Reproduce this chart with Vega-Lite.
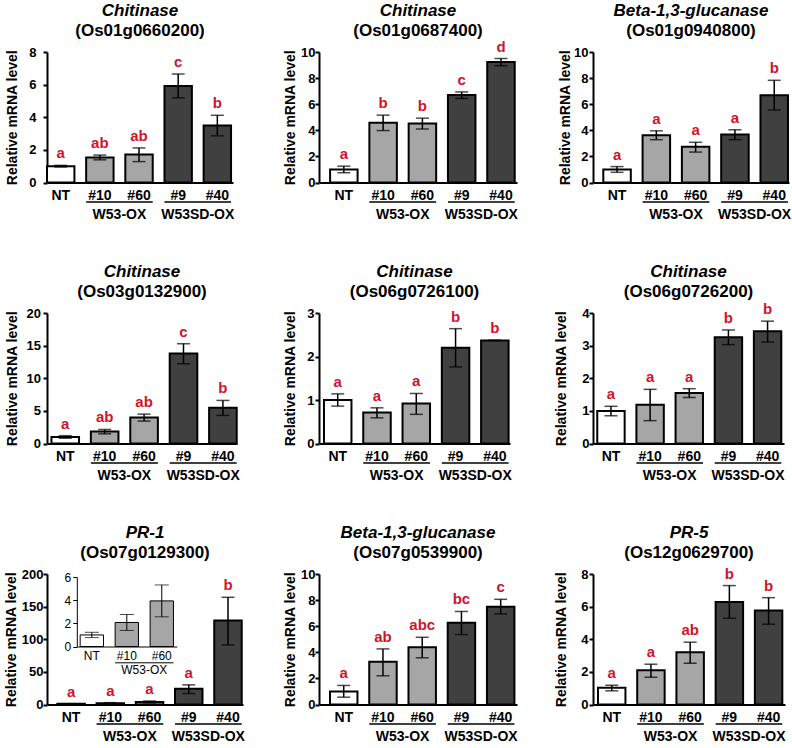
{
"$schema": "https://vega.github.io/schema/vega-lite/v6.json",
"padding": {"left": 4, "top": 1, "right": 2, "bottom": 0},
"datasets": {
"main": [
{"p":1,"line":"NT","grp":"NT","mean":1.0,"lo":0.95,"hi":1.05,"sig":"a"},
{"p":1,"line":"#10","grp":"W53-OX","mean":1.54,"lo":1.39,"hi":1.68,"sig":"ab"},
{"p":1,"line":"#60","grp":"W53-OX","mean":1.72,"lo":1.28,"hi":2.12,"sig":"ab"},
{"p":1,"line":"#9","grp":"W53SD-OX","mean":5.92,"lo":5.19,"hi":6.65,"sig":"c"},
{"p":1,"line":"#40","grp":"W53SD-OX","mean":3.5,"lo":2.86,"hi":4.12,"sig":"b"},
{"p":2,"line":"NT","grp":"NT","mean":1.0,"lo":0.75,"hi":1.25,"sig":"a"},
{"p":2,"line":"#10","grp":"W53-OX","mean":4.58,"lo":3.98,"hi":5.16,"sig":"b"},
{"p":2,"line":"#60","grp":"W53-OX","mean":4.53,"lo":4.1,"hi":4.93,"sig":"b"},
{"p":2,"line":"#9","grp":"W53SD-OX","mean":6.7,"lo":6.44,"hi":6.94,"sig":"c"},
{"p":2,"line":"#40","grp":"W53SD-OX","mean":9.23,"lo":8.95,"hi":9.5,"sig":"d"},
{"p":3,"line":"NT","grp":"NT","mean":1.0,"lo":0.78,"hi":1.22,"sig":"a"},
{"p":3,"line":"#10","grp":"W53-OX","mean":3.63,"lo":3.28,"hi":3.96,"sig":"a"},
{"p":3,"line":"#60","grp":"W53-OX","mean":2.73,"lo":2.33,"hi":3.08,"sig":"a"},
{"p":3,"line":"#9","grp":"W53SD-OX","mean":3.67,"lo":3.28,"hi":4.04,"sig":"a"},
{"p":3,"line":"#40","grp":"W53SD-OX","mean":6.68,"lo":5.55,"hi":7.83,"sig":"b"},
{"p":4,"line":"NT","grp":"NT","mean":1.0,"lo":0.8,"hi":1.2,"sig":"a"},
{"p":4,"line":"#10","grp":"W53-OX","mean":1.84,"lo":1.48,"hi":2.15,"sig":"ab"},
{"p":4,"line":"#60","grp":"W53-OX","mean":3.99,"lo":3.43,"hi":4.5,"sig":"ab"},
{"p":4,"line":"#9","grp":"W53SD-OX","mean":13.81,"lo":12.22,"hi":15.29,"sig":"c"},
{"p":4,"line":"#40","grp":"W53SD-OX","mean":5.47,"lo":4.3,"hi":6.6,"sig":"b"},
{"p":5,"line":"NT","grp":"NT","mean":1.0,"lo":0.86,"hi":1.14,"sig":"a"},
{"p":5,"line":"#10","grp":"W53-OX","mean":0.71,"lo":0.59,"hi":0.82,"sig":"a"},
{"p":5,"line":"#60","grp":"W53-OX","mean":0.92,"lo":0.67,"hi":1.15,"sig":"a"},
{"p":5,"line":"#9","grp":"W53SD-OX","mean":2.2,"lo":1.76,"hi":2.64,"sig":"b"},
{"p":5,"line":"#40","grp":"W53SD-OX","mean":2.37,"lo":2.37,"hi":2.37,"sig":"b"},
{"p":6,"line":"NT","grp":"NT","mean":1.0,"lo":0.85,"hi":1.14,"sig":"a"},
{"p":6,"line":"#10","grp":"W53-OX","mean":1.19,"lo":0.7,"hi":1.66,"sig":"a"},
{"p":6,"line":"#60","grp":"W53-OX","mean":1.55,"lo":1.41,"hi":1.68,"sig":"a"},
{"p":6,"line":"#9","grp":"W53SD-OX","mean":3.26,"lo":3.03,"hi":3.48,"sig":"b"},
{"p":6,"line":"#40","grp":"W53SD-OX","mean":3.44,"lo":3.11,"hi":3.75,"sig":"b"},
{"p":7,"line":"NT","grp":"NT","mean":1.0,"lo":0.77,"hi":1.23,"sig":"a"},
{"p":7,"line":"#10","grp":"W53-OX","mean":2.08,"lo":1.39,"hi":2.77,"sig":"a"},
{"p":7,"line":"#60","grp":"W53-OX","mean":3.95,"lo":2.57,"hi":5.33,"sig":"a"},
{"p":7,"line":"#9","grp":"W53SD-OX","mean":24.0,"lo":16.8,"hi":30.1,"sig":"a"},
{"p":7,"line":"#40","grp":"W53SD-OX","mean":128.6,"lo":91.3,"hi":164.3,"sig":"b"},
{"p":8,"line":"NT","grp":"NT","mean":1.0,"lo":0.56,"hi":1.46,"sig":"a"},
{"p":8,"line":"#10","grp":"W53-OX","mean":3.28,"lo":2.2,"hi":4.26,"sig":"ab"},
{"p":8,"line":"#60","grp":"W53-OX","mean":4.38,"lo":3.58,"hi":5.15,"sig":"abc"},
{"p":8,"line":"#9","grp":"W53SD-OX","mean":6.26,"lo":5.36,"hi":7.13,"sig":"bc"},
{"p":8,"line":"#40","grp":"W53SD-OX","mean":7.5,"lo":6.94,"hi":8.06,"sig":"c"},
{"p":9,"line":"NT","grp":"NT","mean":1.02,"lo":0.84,"hi":1.18,"sig":"a"},
{"p":9,"line":"#10","grp":"W53-OX","mean":2.1,"lo":1.67,"hi":2.47,"sig":"a"},
{"p":9,"line":"#60","grp":"W53-OX","mean":3.2,"lo":2.53,"hi":3.82,"sig":"ab"},
{"p":9,"line":"#9","grp":"W53SD-OX","mean":6.29,"lo":5.29,"hi":7.29,"sig":"b"},
{"p":9,"line":"#40","grp":"W53SD-OX","mean":5.76,"lo":4.92,"hi":6.55,"sig":"b"}
],
"inset": [
{"line":"NT","grp":"NT","mean":1.0,"lo":0.77,"hi":1.23},
{"line":"#10","grp":"W53-OX","mean":2.08,"lo":1.39,"hi":2.77},
{"line":"#60","grp":"W53-OX","mean":3.95,"lo":2.57,"hi":5.33}
],
"brackets": [
{"from":"#10","to":"#60","grp":"W53-OX"},
{"from":"#9","to":"#40","grp":"W53SD-OX"}
]
},
"columns": 3,
"bounds": "flush",
"spacing": {"row": 130, "column": 76},
"concat": [
{"width": 186, "height": 130.5, "title": {"text": "Chitinase", "subtitle": "(Os01g0660200)"},
 "data": {"name": "main"}, "transform": [{"filter": "datum.p == 1"}],
 "layer": [
  {"mark": {"type": "bar", "stroke": "black", "strokeWidth": 2},
   "encoding": {"x": {"field": "line", "type": "nominal", "scale": {"domain": ["NT","#10","#60","#9","#40"], "paddingInner": 0.3, "paddingOuter": 0.025, "align": 0}, "axis": {"title": null}},
    "y": {"field": "mean", "type": "quantitative", "scale": {"domain": [0, 8], "nice": false}, "axis": {"title": "Relative mRNA level", "values": [0,2,4,6,8], "labelPadding": 7, "titlePadding": 9.6}},
    "fill": {"field": "grp", "type": "nominal", "scale": {"domain": ["NT","W53-OX","W53SD-OX"], "range": ["#ffffff","#a6a6a6","#404040"]}, "legend": null}}},
  {"mark": {"type": "errorbar", "ticks": {"size": 13}, "thickness": 1.5, "color": "black"},
   "encoding": {"x": {"field": "line", "type": "nominal", "axis": {"title": null}}, "y": {"field": "lo", "type": "quantitative", "axis": {"title": "Relative mRNA level", "values": [0,2,4,6,8], "labelPadding": 7, "titlePadding": 9.6}}, "y2": {"field": "hi"}}},
  {"mark": {"type": "text", "baseline": "bottom", "dy": -4, "color": "#d0142c", "fontSize": 15, "fontWeight": "bold"},
   "encoding": {"x": {"field": "line", "type": "nominal", "axis": {"title": null}}, "y": {"field": "hi", "type": "quantitative", "axis": {"title": "Relative mRNA level", "values": [0,2,4,6,8], "labelPadding": 7, "titlePadding": 9.6}}, "text": {"field": "sig"}}},
  {"data": {"name": "brackets"}, "mark": {"type": "rule", "yOffset": 19.5, "strokeWidth": 1.5, "color": "black"},
   "encoding": {"x": {"field": "from", "type": "nominal", "bandPosition": 0, "axis": {"title": null}}, "x2": {"field": "to", "bandPosition": 1}, "y": {"datum": 0, "axis": {"title": "Relative mRNA level", "values": [0,2,4,6,8], "labelPadding": 7, "titlePadding": 9.6}}}},
  {"data": {"name": "brackets"}, "mark": {"type": "text", "baseline": "top", "dy": 25.5, "fontSize": 14, "fontWeight": "bold", "color": "black"},
   "encoding": {"x": {"field": "from", "type": "nominal", "bandPosition": 1.2143, "axis": {"title": null}}, "y": {"datum": 0, "axis": {"title": "Relative mRNA level", "values": [0,2,4,6,8], "labelPadding": 7, "titlePadding": 9.6}}, "text": {"field": "grp"}}}
 ]},
{"width": 198, "height": 130.5, "title": {"text": "Chitinase", "subtitle": "(Os01g0687400)", "offset": 0},
 "data": {"name": "main"}, "transform": [{"filter": "datum.p == 2"}],
 "layer": [
  {"mark": {"type": "bar", "stroke": "black", "strokeWidth": 2},
   "encoding": {"x": {"field": "line", "type": "nominal", "scale": {"domain": ["NT","#10","#60","#9","#40"], "paddingInner": 0.3, "paddingOuter": 0.17, "align": 0.83}, "axis": {"title": null}},
    "y": {"field": "mean", "type": "quantitative", "scale": {"domain": [0, 10], "nice": false}, "axis": {"title": "Relative mRNA level", "values": [0,2,4,6,8,10], "labelPadding": 0, "titlePadding": 2.7}},
    "fill": {"field": "grp", "type": "nominal", "scale": {"domain": ["NT","W53-OX","W53SD-OX"], "range": ["#ffffff","#a6a6a6","#404040"]}, "legend": null}}},
  {"mark": {"type": "errorbar", "ticks": {"size": 13}, "thickness": 1.5, "color": "black"},
   "encoding": {"x": {"field": "line", "type": "nominal", "axis": {"title": null}}, "y": {"field": "lo", "type": "quantitative", "axis": {"title": "Relative mRNA level", "values": [0,2,4,6,8,10], "labelPadding": 0, "titlePadding": 2.7}}, "y2": {"field": "hi"}}},
  {"mark": {"type": "text", "baseline": "bottom", "dy": -4, "color": "#d0142c", "fontSize": 15, "fontWeight": "bold"},
   "encoding": {"x": {"field": "line", "type": "nominal", "axis": {"title": null}}, "y": {"field": "hi", "type": "quantitative", "axis": {"title": "Relative mRNA level", "values": [0,2,4,6,8,10], "labelPadding": 0, "titlePadding": 2.7}}, "text": {"field": "sig"}}},
  {"data": {"name": "brackets"}, "mark": {"type": "rule", "yOffset": 19.5, "strokeWidth": 1.5, "color": "black"},
   "encoding": {"x": {"field": "from", "type": "nominal", "bandPosition": 0, "axis": {"title": null}}, "x2": {"field": "to", "bandPosition": 1}, "y": {"datum": 0, "axis": {"title": "Relative mRNA level", "values": [0,2,4,6,8,10], "labelPadding": 0, "titlePadding": 2.7}}}},
  {"data": {"name": "brackets"}, "mark": {"type": "text", "baseline": "top", "dy": 25.5, "fontSize": 14, "fontWeight": "bold", "color": "black"},
   "encoding": {"x": {"field": "from", "type": "nominal", "bandPosition": 1.2143, "axis": {"title": null}}, "y": {"datum": 0, "axis": {"title": "Relative mRNA level", "values": [0,2,4,6,8,10], "labelPadding": 0, "titlePadding": 2.7}}, "text": {"field": "grp"}}}
 ]},
{"width": 196, "height": 130.5, "title": {"text": "Beta-1,3-glucanase", "subtitle": "(Os01g0940800)"},
 "data": {"name": "main"}, "transform": [{"filter": "datum.p == 3"}],
 "layer": [
  {"mark": {"type": "bar", "stroke": "black", "strokeWidth": 2},
   "encoding": {"x": {"field": "line", "type": "nominal", "scale": {"domain": ["NT","#10","#60","#9","#40"], "paddingInner": 0.3, "paddingOuter": 0.144, "align": 0.91}, "axis": {"title": null}},
    "y": {"field": "mean", "type": "quantitative", "scale": {"domain": [0, 10], "nice": false}, "axis": {"title": "Relative mRNA level", "values": [0,2,4,6,8,10], "labelPadding": 1, "titlePadding": 1}},
    "fill": {"field": "grp", "type": "nominal", "scale": {"domain": ["NT","W53-OX","W53SD-OX"], "range": ["#ffffff","#a6a6a6","#404040"]}, "legend": null}}},
  {"mark": {"type": "errorbar", "ticks": {"size": 13}, "thickness": 1.5, "color": "black"},
   "encoding": {"x": {"field": "line", "type": "nominal", "axis": {"title": null}}, "y": {"field": "lo", "type": "quantitative", "axis": {"title": "Relative mRNA level", "values": [0,2,4,6,8,10], "labelPadding": 1, "titlePadding": 1}}, "y2": {"field": "hi"}}},
  {"mark": {"type": "text", "baseline": "bottom", "dy": -4, "color": "#d0142c", "fontSize": 15, "fontWeight": "bold"},
   "encoding": {"x": {"field": "line", "type": "nominal", "axis": {"title": null}}, "y": {"field": "hi", "type": "quantitative", "axis": {"title": "Relative mRNA level", "values": [0,2,4,6,8,10], "labelPadding": 1, "titlePadding": 1}}, "text": {"field": "sig"}}},
  {"data": {"name": "brackets"}, "mark": {"type": "rule", "yOffset": 19.5, "strokeWidth": 1.5, "color": "black"},
   "encoding": {"x": {"field": "from", "type": "nominal", "bandPosition": 0, "axis": {"title": null}}, "x2": {"field": "to", "bandPosition": 1}, "y": {"datum": 0, "axis": {"title": "Relative mRNA level", "values": [0,2,4,6,8,10], "labelPadding": 1, "titlePadding": 1}}}},
  {"data": {"name": "brackets"}, "mark": {"type": "text", "baseline": "top", "dy": 25.5, "fontSize": 14, "fontWeight": "bold", "color": "black"},
   "encoding": {"x": {"field": "from", "type": "nominal", "bandPosition": 1.2143, "axis": {"title": null}}, "y": {"datum": 0, "axis": {"title": "Relative mRNA level", "values": [0,2,4,6,8,10], "labelPadding": 1, "titlePadding": 1}}, "text": {"field": "grp"}}}
 ]},
{"width": 190, "height": 130.5, "title": {"text": "Chitinase", "subtitle": "(Os03g0132900)"},
 "data": {"name": "main"}, "transform": [{"filter": "datum.p == 4"}],
 "layer": [
  {"mark": {"type": "bar", "stroke": "black", "strokeWidth": 2},
   "encoding": {"x": {"field": "line", "type": "nominal", "scale": {"domain": ["NT","#10","#60","#9","#40"], "paddingInner": 0.3, "paddingOuter": 0.06, "align": 0.94}, "axis": {"title": null}},
    "y": {"field": "mean", "type": "quantitative", "scale": {"domain": [0, 20], "nice": false}, "axis": {"title": "Relative mRNA level", "values": [0,5,10,15,20], "labelPadding": 2.5, "titlePadding": 7}},
    "fill": {"field": "grp", "type": "nominal", "scale": {"domain": ["NT","W53-OX","W53SD-OX"], "range": ["#ffffff","#a6a6a6","#404040"]}, "legend": null}}},
  {"mark": {"type": "errorbar", "ticks": {"size": 13}, "thickness": 1.5, "color": "black"},
   "encoding": {"x": {"field": "line", "type": "nominal", "axis": {"title": null}}, "y": {"field": "lo", "type": "quantitative", "axis": {"title": "Relative mRNA level", "values": [0,5,10,15,20], "labelPadding": 2.5, "titlePadding": 7}}, "y2": {"field": "hi"}}},
  {"mark": {"type": "text", "baseline": "bottom", "dy": -4, "color": "#d0142c", "fontSize": 15, "fontWeight": "bold"},
   "encoding": {"x": {"field": "line", "type": "nominal", "axis": {"title": null}}, "y": {"field": "hi", "type": "quantitative", "axis": {"title": "Relative mRNA level", "values": [0,5,10,15,20], "labelPadding": 2.5, "titlePadding": 7}}, "text": {"field": "sig"}}},
  {"data": {"name": "brackets"}, "mark": {"type": "rule", "yOffset": 19.5, "strokeWidth": 1.5, "color": "black"},
   "encoding": {"x": {"field": "from", "type": "nominal", "bandPosition": 0, "axis": {"title": null}}, "x2": {"field": "to", "bandPosition": 1}, "y": {"datum": 0, "axis": {"title": "Relative mRNA level", "values": [0,5,10,15,20], "labelPadding": 2.5, "titlePadding": 7}}}},
  {"data": {"name": "brackets"}, "mark": {"type": "text", "baseline": "top", "dy": 25.5, "fontSize": 14, "fontWeight": "bold", "color": "black"},
   "encoding": {"x": {"field": "from", "type": "nominal", "bandPosition": 1.2143, "axis": {"title": null}}, "y": {"datum": 0, "axis": {"title": "Relative mRNA level", "values": [0,5,10,15,20], "labelPadding": 2.5, "titlePadding": 7}}, "text": {"field": "grp"}}}
 ]},
{"width": 191, "height": 130.5, "title": {"text": "Chitinase", "subtitle": "(Os06g0726100)"},
 "data": {"name": "main"}, "transform": [{"filter": "datum.p == 5"}],
 "layer": [
  {"mark": {"type": "bar", "stroke": "black", "strokeWidth": 2},
   "encoding": {"x": {"field": "line", "type": "nominal", "scale": {"domain": ["NT","#10","#60","#9","#40"], "paddingInner": 0.3, "paddingOuter": 0.081, "align": 0.78}, "axis": {"title": null}},
    "y": {"field": "mean", "type": "quantitative", "scale": {"domain": [0, 3], "nice": false}, "axis": {"title": "Relative mRNA level", "values": [0,1,2,3], "labelPadding": 1, "titlePadding": 9.3}},
    "fill": {"field": "grp", "type": "nominal", "scale": {"domain": ["NT","W53-OX","W53SD-OX"], "range": ["#ffffff","#a6a6a6","#404040"]}, "legend": null}}},
  {"mark": {"type": "errorbar", "ticks": {"size": 13}, "thickness": 1.5, "color": "black"},
   "encoding": {"x": {"field": "line", "type": "nominal", "axis": {"title": null}}, "y": {"field": "lo", "type": "quantitative", "axis": {"title": "Relative mRNA level", "values": [0,1,2,3], "labelPadding": 1, "titlePadding": 9.3}}, "y2": {"field": "hi"}}},
  {"mark": {"type": "text", "baseline": "bottom", "dy": -4, "color": "#d0142c", "fontSize": 15, "fontWeight": "bold"},
   "encoding": {"x": {"field": "line", "type": "nominal", "axis": {"title": null}}, "y": {"field": "hi", "type": "quantitative", "axis": {"title": "Relative mRNA level", "values": [0,1,2,3], "labelPadding": 1, "titlePadding": 9.3}}, "text": {"field": "sig"}}},
  {"data": {"name": "brackets"}, "mark": {"type": "rule", "yOffset": 19.5, "strokeWidth": 1.5, "color": "black"},
   "encoding": {"x": {"field": "from", "type": "nominal", "bandPosition": 0, "axis": {"title": null}}, "x2": {"field": "to", "bandPosition": 1}, "y": {"datum": 0, "axis": {"title": "Relative mRNA level", "values": [0,1,2,3], "labelPadding": 1, "titlePadding": 9.3}}}},
  {"data": {"name": "brackets"}, "mark": {"type": "text", "baseline": "top", "dy": 25.5, "fontSize": 14, "fontWeight": "bold", "color": "black"},
   "encoding": {"x": {"field": "from", "type": "nominal", "bandPosition": 1.2143, "axis": {"title": null}}, "y": {"datum": 0, "axis": {"title": "Relative mRNA level", "values": [0,1,2,3], "labelPadding": 1, "titlePadding": 9.3}}, "text": {"field": "grp"}}}
 ]},
{"width": 191, "height": 130.5, "title": {"text": "Chitinase", "subtitle": "(Os06g0726200)", "offset": 1},
 "data": {"name": "main"}, "transform": [{"filter": "datum.p == 6"}],
 "layer": [
  {"mark": {"type": "bar", "stroke": "black", "strokeWidth": 2},
   "encoding": {"x": {"field": "line", "type": "nominal", "scale": {"domain": ["NT","#10","#60","#9","#40"], "paddingInner": 0.3, "paddingOuter": 0.089, "align": 0.61}, "axis": {"title": null}},
    "y": {"field": "mean", "type": "quantitative", "scale": {"domain": [0, 4], "nice": false}, "axis": {"title": "Relative mRNA level", "values": [0,1,2,3,4], "labelPadding": 0, "titlePadding": 13.6}},
    "fill": {"field": "grp", "type": "nominal", "scale": {"domain": ["NT","W53-OX","W53SD-OX"], "range": ["#ffffff","#a6a6a6","#404040"]}, "legend": null}}},
  {"mark": {"type": "errorbar", "ticks": {"size": 13}, "thickness": 1.5, "color": "black"},
   "encoding": {"x": {"field": "line", "type": "nominal", "axis": {"title": null}}, "y": {"field": "lo", "type": "quantitative", "axis": {"title": "Relative mRNA level", "values": [0,1,2,3,4], "labelPadding": 0, "titlePadding": 13.6}}, "y2": {"field": "hi"}}},
  {"mark": {"type": "text", "baseline": "bottom", "dy": -4, "color": "#d0142c", "fontSize": 15, "fontWeight": "bold"},
   "encoding": {"x": {"field": "line", "type": "nominal", "axis": {"title": null}}, "y": {"field": "hi", "type": "quantitative", "axis": {"title": "Relative mRNA level", "values": [0,1,2,3,4], "labelPadding": 0, "titlePadding": 13.6}}, "text": {"field": "sig"}}},
  {"data": {"name": "brackets"}, "mark": {"type": "rule", "yOffset": 19.5, "strokeWidth": 1.5, "color": "black"},
   "encoding": {"x": {"field": "from", "type": "nominal", "bandPosition": 0, "axis": {"title": null}}, "x2": {"field": "to", "bandPosition": 1}, "y": {"datum": 0, "axis": {"title": "Relative mRNA level", "values": [0,1,2,3,4], "labelPadding": 0, "titlePadding": 13.6}}}},
  {"data": {"name": "brackets"}, "mark": {"type": "text", "baseline": "top", "dy": 25.5, "fontSize": 14, "fontWeight": "bold", "color": "black"},
   "encoding": {"x": {"field": "from", "type": "nominal", "bandPosition": 1.2143, "axis": {"title": null}}, "y": {"datum": 0, "axis": {"title": "Relative mRNA level", "values": [0,1,2,3,4], "labelPadding": 0, "titlePadding": 13.6}}, "text": {"field": "grp"}}}
 ]},
{"width": 196, "height": 130.5, "title": {"text": "PR-1", "subtitle": "(Os07g0129300)"},
 "layer": [
  {"data": {"name": "main"}, "transform": [{"filter": "datum.p == 7"}],
   "layer": [
    {"mark": {"type": "bar", "stroke": "black", "strokeWidth": 2},
     "encoding": {"x": {"field": "line", "type": "nominal", "scale": {"domain": ["NT","#10","#60","#9","#40"], "paddingInner": 0.3, "paddingOuter": 0.148, "align": 0.89}, "axis": {"title": null}},
      "y": {"field": "mean", "type": "quantitative", "scale": {"domain": [0, 200], "nice": false}, "axis": {"title": "Relative mRNA level", "values": [0,50,100,150,200], "labelPadding": 0, "titlePadding": 3.3}},
      "fill": {"field": "grp", "type": "nominal", "scale": {"domain": ["NT","W53-OX","W53SD-OX"], "range": ["#ffffff","#a6a6a6","#404040"]}, "legend": null}}},
    {"mark": {"type": "errorbar", "ticks": {"size": 13}, "thickness": 1.5, "color": "black"},
     "encoding": {"x": {"field": "line", "type": "nominal", "axis": {"title": null}}, "y": {"field": "lo", "type": "quantitative", "axis": {"title": "Relative mRNA level", "values": [0,50,100,150,200], "labelPadding": 0, "titlePadding": 3.3}}, "y2": {"field": "hi"}}},
    {"mark": {"type": "text", "baseline": "bottom", "dy": -4, "color": "#d0142c", "fontSize": 15, "fontWeight": "bold"},
     "encoding": {"x": {"field": "line", "type": "nominal", "axis": {"title": null}}, "y": {"field": "hi", "type": "quantitative", "axis": {"title": "Relative mRNA level", "values": [0,50,100,150,200], "labelPadding": 0, "titlePadding": 3.3}}, "text": {"field": "sig"}}},
    {"data": {"name": "brackets"}, "mark": {"type": "rule", "yOffset": 19.5, "strokeWidth": 1.5, "color": "black"},
     "encoding": {"x": {"field": "from", "type": "nominal", "bandPosition": 0, "axis": {"title": null}}, "x2": {"field": "to", "bandPosition": 1}, "y": {"datum": 0, "axis": {"title": "Relative mRNA level", "values": [0,50,100,150,200], "labelPadding": 0, "titlePadding": 3.3}}}},
    {"data": {"name": "brackets"}, "mark": {"type": "text", "baseline": "top", "dy": 25.5, "fontSize": 14, "fontWeight": "bold", "color": "black"},
     "encoding": {"x": {"field": "from", "type": "nominal", "bandPosition": 1.2143, "axis": {"title": null}}, "y": {"datum": 0, "axis": {"title": "Relative mRNA level", "values": [0,50,100,150,200], "labelPadding": 0, "titlePadding": 3.3}}, "text": {"field": "grp"}}}
   ]},
  {"layer": [
    {"data": {"name": "inset"}, "mark": {"type": "bar", "stroke": "black", "strokeWidth": 1},
     "encoding": {"x": {"field": "line", "type": "nominal", "scale": {"domain": ["NT","#10","#60"], "range": [29.8, 129.8], "paddingInner": 0.333, "paddingOuter": 0.096}, "axis": {"title": null, "orient": "bottom", "offset": -58, "labelFontWeight": "normal", "labelFontSize": 12, "labelPadding": 4, "domainWidth": 1}},
      "y": {"field": "mean", "type": "quantitative", "scale": {"domain": [0, 6], "range": [72.5, 3.2], "nice": false}, "axis": {"title": null, "orient": "left", "offset": -29.8, "values": [0,2,4,6], "labelFontWeight": "normal", "labelFontSize": 12, "domainWidth": 1, "tickWidth": 1, "tickSize": 4, "labelPadding": 2}},
      "fill": {"field": "grp", "type": "nominal", "legend": null}}},
    {"data": {"name": "inset"}, "mark": {"type": "errorbar", "ticks": {"size": 14}, "thickness": 1, "color": "black"},
     "encoding": {"x": {"field": "line", "type": "nominal", "axis": {"title": null, "orient": "bottom", "offset": -58, "labelFontWeight": "normal", "labelFontSize": 12, "labelPadding": 4, "domainWidth": 1}}, "y": {"field": "lo", "type": "quantitative", "axis": {"title": null, "orient": "left", "offset": -29.8, "values": [0,2,4,6], "labelFontWeight": "normal", "labelFontSize": 12, "domainWidth": 1, "tickWidth": 1, "tickSize": 4, "labelPadding": 2}}, "y2": {"field": "hi"}}},
    {"data": {"name": "brackets"}, "transform": [{"filter": "datum.grp == 'W53-OX'"}], "mark": {"type": "rule", "yOffset": 16.3, "strokeWidth": 1, "color": "black"},
     "encoding": {"x": {"field": "from", "type": "nominal", "bandPosition": 0, "axis": {"title": null, "orient": "bottom", "offset": -58, "labelFontWeight": "normal", "labelFontSize": 12, "labelPadding": 4, "domainWidth": 1}}, "x2": {"field": "to", "bandPosition": 1}, "y": {"datum": 0, "axis": {"title": null, "orient": "left", "offset": -29.8, "values": [0,2,4,6], "labelFontWeight": "normal", "labelFontSize": 12, "domainWidth": 1, "tickWidth": 1, "tickSize": 4, "labelPadding": 2}}}},
    {"data": {"name": "brackets"}, "transform": [{"filter": "datum.grp == 'W53-OX'"}], "mark": {"type": "text", "baseline": "top", "dy": 18, "fontSize": 12, "color": "black"},
     "encoding": {"x": {"field": "from", "type": "nominal", "bandPosition": 1.25, "axis": {"title": null, "orient": "bottom", "offset": -58, "labelFontWeight": "normal", "labelFontSize": 12, "labelPadding": 4, "domainWidth": 1}}, "y": {"datum": 0, "axis": {"title": null, "orient": "left", "offset": -29.8, "values": [0,2,4,6], "labelFontWeight": "normal", "labelFontSize": 12, "domainWidth": 1, "tickWidth": 1, "tickSize": 4, "labelPadding": 2}}, "text": {"field": "grp"}}}
  ]}
 ],
 "resolve": {"scale": {"x": "independent", "y": "independent"}, "axis": {"x": "independent", "y": "independent"}}},
{"width": 198, "height": 130.5, "title": {"text": "Beta-1,3-glucanase", "subtitle": "(Os07g0539900)"},
 "data": {"name": "main"}, "transform": [{"filter": "datum.p == 8"}],
 "layer": [
  {"mark": {"type": "bar", "stroke": "black", "strokeWidth": 2},
   "encoding": {"x": {"field": "line", "type": "nominal", "scale": {"domain": ["NT","#10","#60","#9","#40"], "paddingInner": 0.3, "paddingOuter": 0.173, "align": 0.81}, "axis": {"title": null}},
    "y": {"field": "mean", "type": "quantitative", "scale": {"domain": [0, 10], "nice": false}, "axis": {"title": "Relative mRNA level", "values": [0,2,4,6,8,10], "labelPadding": 0, "titlePadding": 2.7}},
    "fill": {"field": "grp", "type": "nominal", "scale": {"domain": ["NT","W53-OX","W53SD-OX"], "range": ["#ffffff","#a6a6a6","#404040"]}, "legend": null}}},
  {"mark": {"type": "errorbar", "ticks": {"size": 13}, "thickness": 1.5, "color": "black"},
   "encoding": {"x": {"field": "line", "type": "nominal", "axis": {"title": null}}, "y": {"field": "lo", "type": "quantitative", "axis": {"title": "Relative mRNA level", "values": [0,2,4,6,8,10], "labelPadding": 0, "titlePadding": 2.7}}, "y2": {"field": "hi"}}},
  {"mark": {"type": "text", "baseline": "bottom", "dy": -4, "color": "#d0142c", "fontSize": 15, "fontWeight": "bold"},
   "encoding": {"x": {"field": "line", "type": "nominal", "axis": {"title": null}}, "y": {"field": "hi", "type": "quantitative", "axis": {"title": "Relative mRNA level", "values": [0,2,4,6,8,10], "labelPadding": 0, "titlePadding": 2.7}}, "text": {"field": "sig"}}},
  {"data": {"name": "brackets"}, "mark": {"type": "rule", "yOffset": 19.5, "strokeWidth": 1.5, "color": "black"},
   "encoding": {"x": {"field": "from", "type": "nominal", "bandPosition": 0, "axis": {"title": null}}, "x2": {"field": "to", "bandPosition": 1}, "y": {"datum": 0, "axis": {"title": "Relative mRNA level", "values": [0,2,4,6,8,10], "labelPadding": 0, "titlePadding": 2.7}}}},
  {"data": {"name": "brackets"}, "mark": {"type": "text", "baseline": "top", "dy": 25.5, "fontSize": 14, "fontWeight": "bold", "color": "black"},
   "encoding": {"x": {"field": "from", "type": "nominal", "bandPosition": 1.2143, "axis": {"title": null}}, "y": {"datum": 0, "axis": {"title": "Relative mRNA level", "values": [0,2,4,6,8,10], "labelPadding": 0, "titlePadding": 2.7}}, "text": {"field": "grp"}}}
 ]},
{"width": 192, "height": 130.5, "title": {"text": "PR-5", "subtitle": "(Os12g0629700)", "offset": 5},
 "data": {"name": "main"}, "transform": [{"filter": "datum.p == 9"}],
 "layer": [
  {"mark": {"type": "bar", "stroke": "black", "strokeWidth": 2},
   "encoding": {"x": {"field": "line", "type": "nominal", "scale": {"domain": ["NT","#10","#60","#9","#40"], "paddingInner": 0.3, "paddingOuter": 0.098, "align": 0.65}, "axis": {"title": null}},
    "y": {"field": "mean", "type": "quantitative", "scale": {"domain": [0, 8], "nice": false}, "axis": {"title": "Relative mRNA level", "values": [0,2,4,6,8], "labelPadding": 1, "titlePadding": 12.7}},
    "fill": {"field": "grp", "type": "nominal", "scale": {"domain": ["NT","W53-OX","W53SD-OX"], "range": ["#ffffff","#a6a6a6","#404040"]}, "legend": null}}},
  {"mark": {"type": "errorbar", "ticks": {"size": 13}, "thickness": 1.5, "color": "black"},
   "encoding": {"x": {"field": "line", "type": "nominal", "axis": {"title": null}}, "y": {"field": "lo", "type": "quantitative", "axis": {"title": "Relative mRNA level", "values": [0,2,4,6,8], "labelPadding": 1, "titlePadding": 12.7}}, "y2": {"field": "hi"}}},
  {"mark": {"type": "text", "baseline": "bottom", "dy": -4, "color": "#d0142c", "fontSize": 15, "fontWeight": "bold"},
   "encoding": {"x": {"field": "line", "type": "nominal", "axis": {"title": null}}, "y": {"field": "hi", "type": "quantitative", "axis": {"title": "Relative mRNA level", "values": [0,2,4,6,8], "labelPadding": 1, "titlePadding": 12.7}}, "text": {"field": "sig"}}},
  {"data": {"name": "brackets"}, "mark": {"type": "rule", "yOffset": 19.5, "strokeWidth": 1.5, "color": "black"},
   "encoding": {"x": {"field": "from", "type": "nominal", "bandPosition": 0, "axis": {"title": null}}, "x2": {"field": "to", "bandPosition": 1}, "y": {"datum": 0, "axis": {"title": "Relative mRNA level", "values": [0,2,4,6,8], "labelPadding": 1, "titlePadding": 12.7}}}},
  {"data": {"name": "brackets"}, "mark": {"type": "text", "baseline": "top", "dy": 25.5, "fontSize": 14, "fontWeight": "bold", "color": "black"},
   "encoding": {"x": {"field": "from", "type": "nominal", "bandPosition": 1.2143, "axis": {"title": null}}, "y": {"datum": 0, "axis": {"title": "Relative mRNA level", "values": [0,2,4,6,8], "labelPadding": 1, "titlePadding": 12.7}}, "text": {"field": "grp"}}}
 ]}
],
"config": {
 "view": {"stroke": null},
 "font": "Liberation Sans",
 "title": {"font": "Liberation Sans", "fontSize": 17, "fontWeight": "bold", "fontStyle": "italic", "color": "black", "subtitleFont": "Liberation Sans", "subtitleFontSize": 17, "subtitleFontWeight": "bold", "subtitleColor": "black", "subtitlePadding": 3, "frame": "group", "anchor": "middle", "offset": 6},
 "text": {"font": "Liberation Sans"},
 "axis": {"labelFont": "Liberation Sans", "labelFontWeight": "bold", "labelColor": "black", "titleFont": "Liberation Sans", "titleFontWeight": "bold", "titleColor": "black", "titleFontSize": 14, "domainColor": "black", "tickColor": "black", "grid": false, "labelOverlap": false},
 "axisX": {"labelFontSize": 14, "labelAngle": 0, "ticks": false, "domainWidth": 2, "labelPadding": 6},
 "axisY": {"labelFontSize": 13, "tickSize": 4, "tickWidth": 2, "domainWidth": 2}
}
}
